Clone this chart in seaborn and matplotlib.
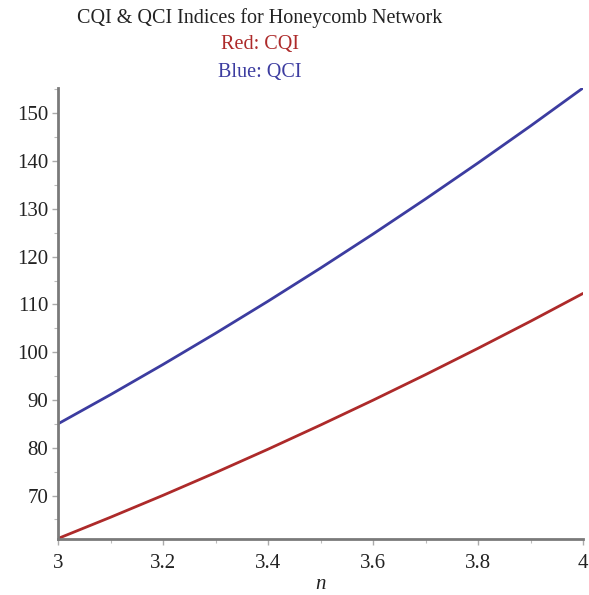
import matplotlib
matplotlib.use("Agg")
import matplotlib.pyplot as plt
import seaborn as sns
import pandas as pd
from matplotlib.ticker import MultipleLocator, FuncFormatter

n_values = [3.0, 3.1, 3.2, 3.3, 3.4, 3.5, 3.6, 3.7, 3.8, 3.9, 4.0]
cqi_values = [61.0, 65.45, 70.04, 74.79, 79.69, 84.75, 89.95, 95.3, 100.81, 106.47, 112.3]
qci_values = [85.0, 91.11, 97.43, 103.95, 110.67, 117.6, 124.73, 132.07, 139.61, 147.35, 155.3]
x_ticks = [3, 3.2, 3.4, 3.6, 3.8, 4]
y_ticks = [70, 80, 90, 100, 110, 120, 130, 140, 150]
title_lines = ["CQI & QCI Indices for Honeycomb Network", "Red: CQI", "Blue: QCI"]

sns.set_style("white")
plt.rcParams['font.family'] = ['Liberation Serif', 'DejaVu Serif']

df = pd.DataFrame({
    "n": n_values * 2,
    "value": cqi_values + qci_values,
    "index": ["CQI"] * len(n_values) + ["QCI"] * len(n_values),
})

W, H = 589, 595
fig = plt.figure(figsize=(W / 100, H / 100), dpi=100)
ax = fig.add_axes([58 / W, 1 - 539 / H, (583 - 58) / W, (539 - 88) / H])

red = "#AD2A2A"
blue = "#3C3CA0"
sns.lineplot(data=df, x="n", y="value", hue="index", palette={"CQI": red, "QCI": blue},
             linewidth=2.0, ax=ax, legend=False)

ax.set_xlim(min(n_values), max(n_values))
ax.set_ylim(min(cqi_values) - 0.1, max(qci_values))
ax.set_xticks(x_ticks)
ax.set_yticks(y_ticks)
ax.xaxis.set_major_formatter(FuncFormatter(lambda v, p: f"{v:g}"))
ax.xaxis.set_minor_locator(MultipleLocator(0.1))
ax.yaxis.set_minor_locator(MultipleLocator(5))

for s in ["top", "right"]:
    ax.spines[s].set_visible(False)
for s in ["left", "bottom"]:
    ax.spines[s].set_color("#7a7a7a")
    ax.spines[s].set_linewidth(2.0)

ax.tick_params(axis="both", which="major", length=4, width=1, color="#aaaaaa",
               labelsize=15, labelcolor="#222222", direction="out")
ax.tick_params(axis="y", which="major", pad=3)
ax.tick_params(axis="x", which="major", pad=7)
ax.tick_params(axis="both", which="minor", length=3, width=0.8, color="#bbbbbb", direction="out")
ax.tick_params(bottom=True, left=True, which="both")

ax.set_xlabel("n", fontsize=15, style="italic", color="#222222", labelpad=1)
ax.set_ylabel("")

cx = 260 / W
fig.text(cx, 1 - 18 / H, title_lines[0], ha="center", va="center", fontsize=14.5, color="#222222")
fig.text(cx, 1 - 45 / H, title_lines[1], ha="center", va="center", fontsize=14.5, color=red)
fig.text(cx, 1 - 72 / H, title_lines[2], ha="center", va="center", fontsize=14.5, color=blue)

fig.savefig("out.png", dpi=100, facecolor="white")
